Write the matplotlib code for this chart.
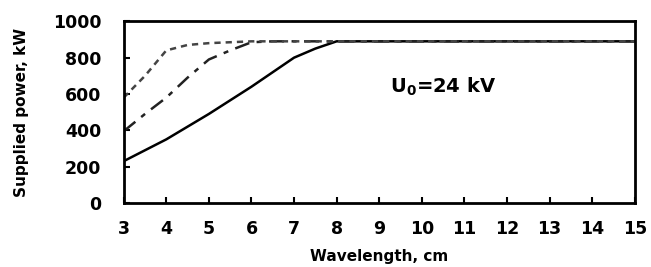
import matplotlib.pyplot as plt

plt.rcParams['font.family'] = ['DejaVu Sans']
plt.rcParams['font.weight'] = 'bold'

wl = [3, 3.5, 4, 4.5, 5, 5.5, 6, 6.5, 7, 7.5, 8, 15]
p_solid = [230, 290, 350, 420, 490, 565, 640, 720, 800, 850, 890, 890]
p_dashdot = [395, 490, 580, 690, 790, 840, 885, 890, 890, 890, 890, 890]
p_dotted = [580, 700, 840, 870, 880, 885, 890, 890, 890, 890, 890, 890]

fig = plt.figure(figsize=(6.51, 2.67), dpi=100)
ax = fig.add_axes([0.19, 0.24, 0.785, 0.68])

ax.plot(wl, p_solid, color='black', lw=1.8)
ax.plot(wl, p_dashdot, color='#222222', lw=1.8, ls=(0, (6, 3, 2, 3)))
ax.plot(wl, p_dotted, color='#444444', lw=1.8, ls=(0, (2.5, 2)))

ax.text(9.25, 640, r'U$_0$=24 kV', fontsize=14, fontweight='bold', va='center')

ax.set_xlim(3, 15)
ax.set_ylim(0, 1000)
ax.set_xticks(range(3, 16))
ax.set_yticks(range(0, 1001, 200))
ax.tick_params(direction='in', length=4, width=1.5, labelsize=12.5)
ax.tick_params(axis='x', pad=12)
ax.tick_params(axis='y', pad=16)
for s in ax.spines.values():
    s.set_linewidth(2)

ax.set_xlabel('Wavelength, cm', fontsize=11, fontweight='bold', labelpad=8)
ax.set_ylabel('Supplied power, kW', fontsize=11, fontweight='bold', labelpad=17)

fig.savefig('out.png', dpi=100)
